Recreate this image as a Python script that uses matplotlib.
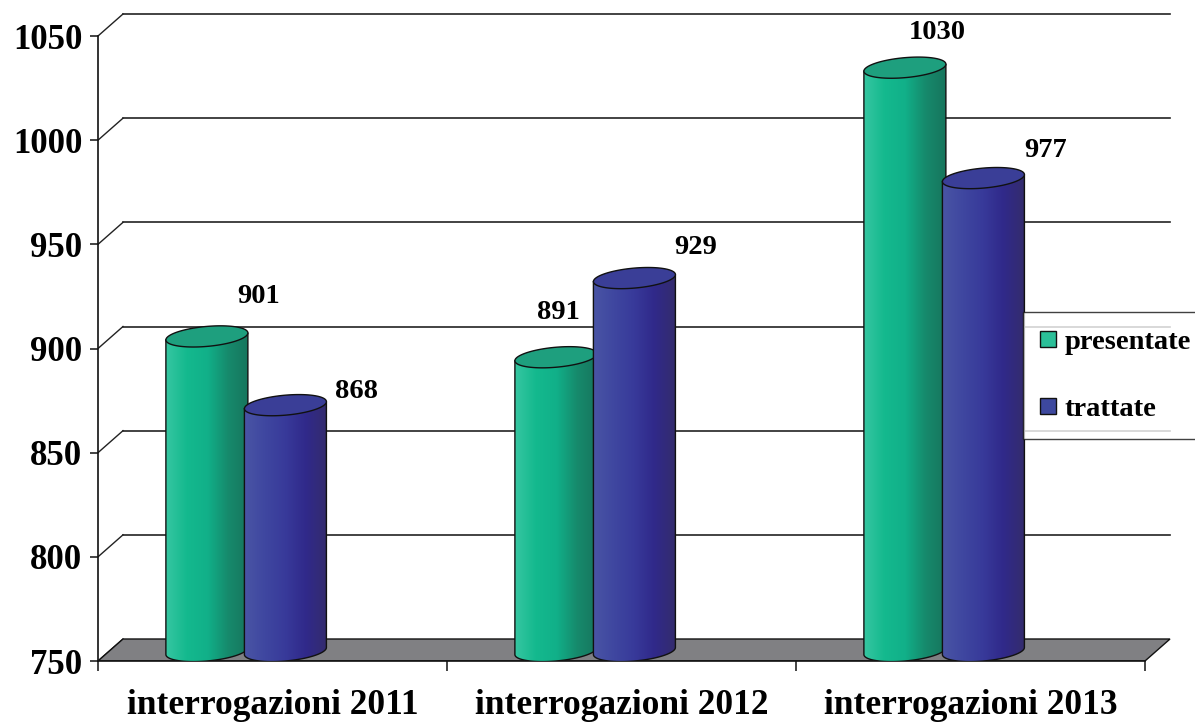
import numpy as np
import matplotlib
matplotlib.use("Agg")
import matplotlib.pyplot as plt
from matplotlib.patches import Polygon, Patch, Rectangle
from matplotlib.legend_handler import HandlerPatch
from matplotlib.colors import LinearSegmentedColormap

# ---------------- data ----------------
categories = ["interrogazioni 2011", "interrogazioni 2012", "interrogazioni 2013"]
series_names = ["presentate", "trattate"]
presentate = [901, 891, 1030]
trattate = [868, 929, 977]
y_ticks = [750, 800, 850, 900, 950, 1000, 1050]

# ---------------- style / layout ----------------
W, H, DPI = 1195, 727, 100
ax_left_px, ax_right_px = 98, 1190
ax_bottom_px, ax_top_px = 661, 10
px_per_cat = 349.0
px_per_val = 625.0 / 300.0
ymin = 750
depth_dx = 25 / px_per_cat          # back-wall offset in category units
depth_dy = 22 / px_per_val          # back-wall offset in value units
bar_half = 41 / px_per_cat
bar_offsets = [-0.188, 0.037]
ell_b = 10 / px_per_val
ell_tilt = 3.5 / px_per_val
top_shift = 10 / px_per_val

# label offsets (points) relative to top centre of each cylinder, per series
label_offsets = [
    [(37, 29), (1.5, 32), (23.5, 25)],
    [(51, 10), (44, 22), (44.5, 20)],
]

body_cmaps = [
    LinearSegmentedColormap.from_list("g", ["#36c6a1", "#14b98e", "#11b089", "#168a6c", "#17755d"]),
    LinearSegmentedColormap.from_list("b", ["#4a55a5", "#3f47a0", "#383a9a", "#30298a", "#342c6e"]),
]
top_colors = ["#1e9f7e", "#3a3e97"]
legend_colors = ["#2bbf98", "#3d489e"]

plt.rcParams['font.family'] = ['Liberation Serif', 'DejaVu Serif']
plt.rcParams['font.weight'] = 'bold'

fig = plt.figure(figsize=(W / DPI, H / DPI), dpi=DPI)
ax = fig.add_axes([ax_left_px / W, (H - ax_bottom_px) / H,
                   (ax_right_px - ax_left_px) / W, (ax_bottom_px - ax_top_px) / H])
xmin = -0.5
xmax = xmin + (ax_right_px - ax_left_px) / px_per_cat
ymax = ymin + (ax_bottom_px - ax_top_px) / px_per_val
ncat = len(categories)
xend = xmin + ncat

# back wall gridlines and diagonals
for v in y_ticks[1:]:
    ax.plot([xmin + depth_dx, xend + depth_dx], [v + depth_dy, v + depth_dy],
            color="#222222", lw=1.2, zorder=1)
for v in y_ticks:
    ax.plot([xmin, xmin + depth_dx], [v, v + depth_dy], color="#222222", lw=1.0, zorder=1)

# floor
floor = Polygon([(xmin, ymin), (xend, ymin), (xend + depth_dx, ymin + depth_dy),
                 (xmin + depth_dx, ymin + depth_dy)], closed=True,
                facecolor="#808083", edgecolor="#111111", lw=1.0, zorder=2)
ax.add_patch(floor)

grad = np.linspace(0, 1, 256).reshape(1, -1)


def cylinder(cx, value, s, z):
    yb = ymin + ell_b
    yt = value + top_shift
    t = np.linspace(np.pi, 2 * np.pi, 80)
    pts = [(cx - bar_half, yt - ell_tilt), (cx - bar_half, yb - ell_tilt)]
    pts += list(zip(cx + bar_half * np.cos(t), yb + ell_b * np.sin(t) + ell_tilt * np.cos(t)))
    pts += [(cx + bar_half, yt + ell_tilt)]
    body = Polygon(pts, closed=True, facecolor="none", edgecolor="#111111", lw=1.0, zorder=z + 0.1)
    ax.add_patch(body)
    im = ax.imshow(grad, cmap=body_cmaps[s], aspect="auto", interpolation="bilinear",
                   extent=[cx - bar_half, cx + bar_half, ymin - 2, yt + ell_b + 2], zorder=z)
    im.set_clip_path(body)
    tt = np.linspace(0, 2 * np.pi, 160)
    top = Polygon(list(zip(cx + bar_half * np.cos(tt), yt + ell_b * np.sin(tt) + ell_tilt * np.cos(tt))),
                  closed=True, facecolor=top_colors[s], edgecolor="#111111", lw=1.0, zorder=z + 0.2)
    ax.add_patch(top)
    return yt


for s, vals in enumerate([presentate, trattate]):
    for i, v in enumerate(vals):
        cx = i + bar_offsets[s]
        yt = cylinder(cx, v, s, 3 + s)
        ax.annotate(str(v), xy=(cx, yt), xytext=label_offsets[s][i], textcoords="offset points",
                    ha="center", va="center", fontsize=20.5, fontweight="bold", zorder=10)

ax.set_xlim(xmin, xmax)
ax.set_ylim(ymin, ymax)

for sp in ["top", "right"]:
    ax.spines[sp].set_visible(False)
ax.spines["left"].set_bounds(ymin, y_ticks[-1])
ax.spines["bottom"].set_bounds(xmin, xend)
for sp in ["left", "bottom"]:
    ax.spines[sp].set_color("#111111")
    ax.spines[sp].set_linewidth(1.2)
    ax.spines[sp].set_zorder(2.5)

ax.set_yticks(y_ticks)
ax.set_yticklabels([str(v) for v in y_ticks], fontsize=25, fontweight="bold")
ax.tick_params(axis="y", direction="out", length=5.8, width=1.1, pad=5.5, color="#111111")

ax.set_xticks([xmin + k for k in range(ncat + 1)])
ax.set_xticklabels([])
ax.tick_params(axis="x", which="major", direction="out", length=7, width=1.1, color="#111111")
ax.set_xticks(list(range(ncat)), minor=True)
ax.set_xticklabels(categories, minor=True, fontsize=25.5, fontweight="bold")
ax.tick_params(axis="x", which="minor", length=0, pad=20)


def small_square(legend, orig_handle, xdescent, ydescent, width, height, fontsize):
    side = 0.55 * fontsize
    return Rectangle((-xdescent, -ydescent + (height - side) / 2), side, side)


handles = [Patch(facecolor=legend_colors[k], edgecolor="#111111", lw=1.0) for k in range(2)]
leg = fig.legend(handles, series_names, loc="upper left",
                 bbox_to_anchor=(1023 / W, 1 - 312 / H), bbox_transform=fig.transFigure,
                 borderaxespad=0, fontsize=20.5, frameon=True, fancybox=False,
                 handlelength=0.55, handleheight=0.7, handletextpad=0.3,
                 labelspacing=1.45, borderpad=0.6,
                 handler_map={Patch: HandlerPatch(patch_func=small_square)})
leg.get_frame().set_edgecolor("#111111")
leg.get_frame().set_linewidth(1.0)
for txt in leg.get_texts():
    txt.set_fontweight("bold")

fig.savefig("out.png", dpi=DPI)
